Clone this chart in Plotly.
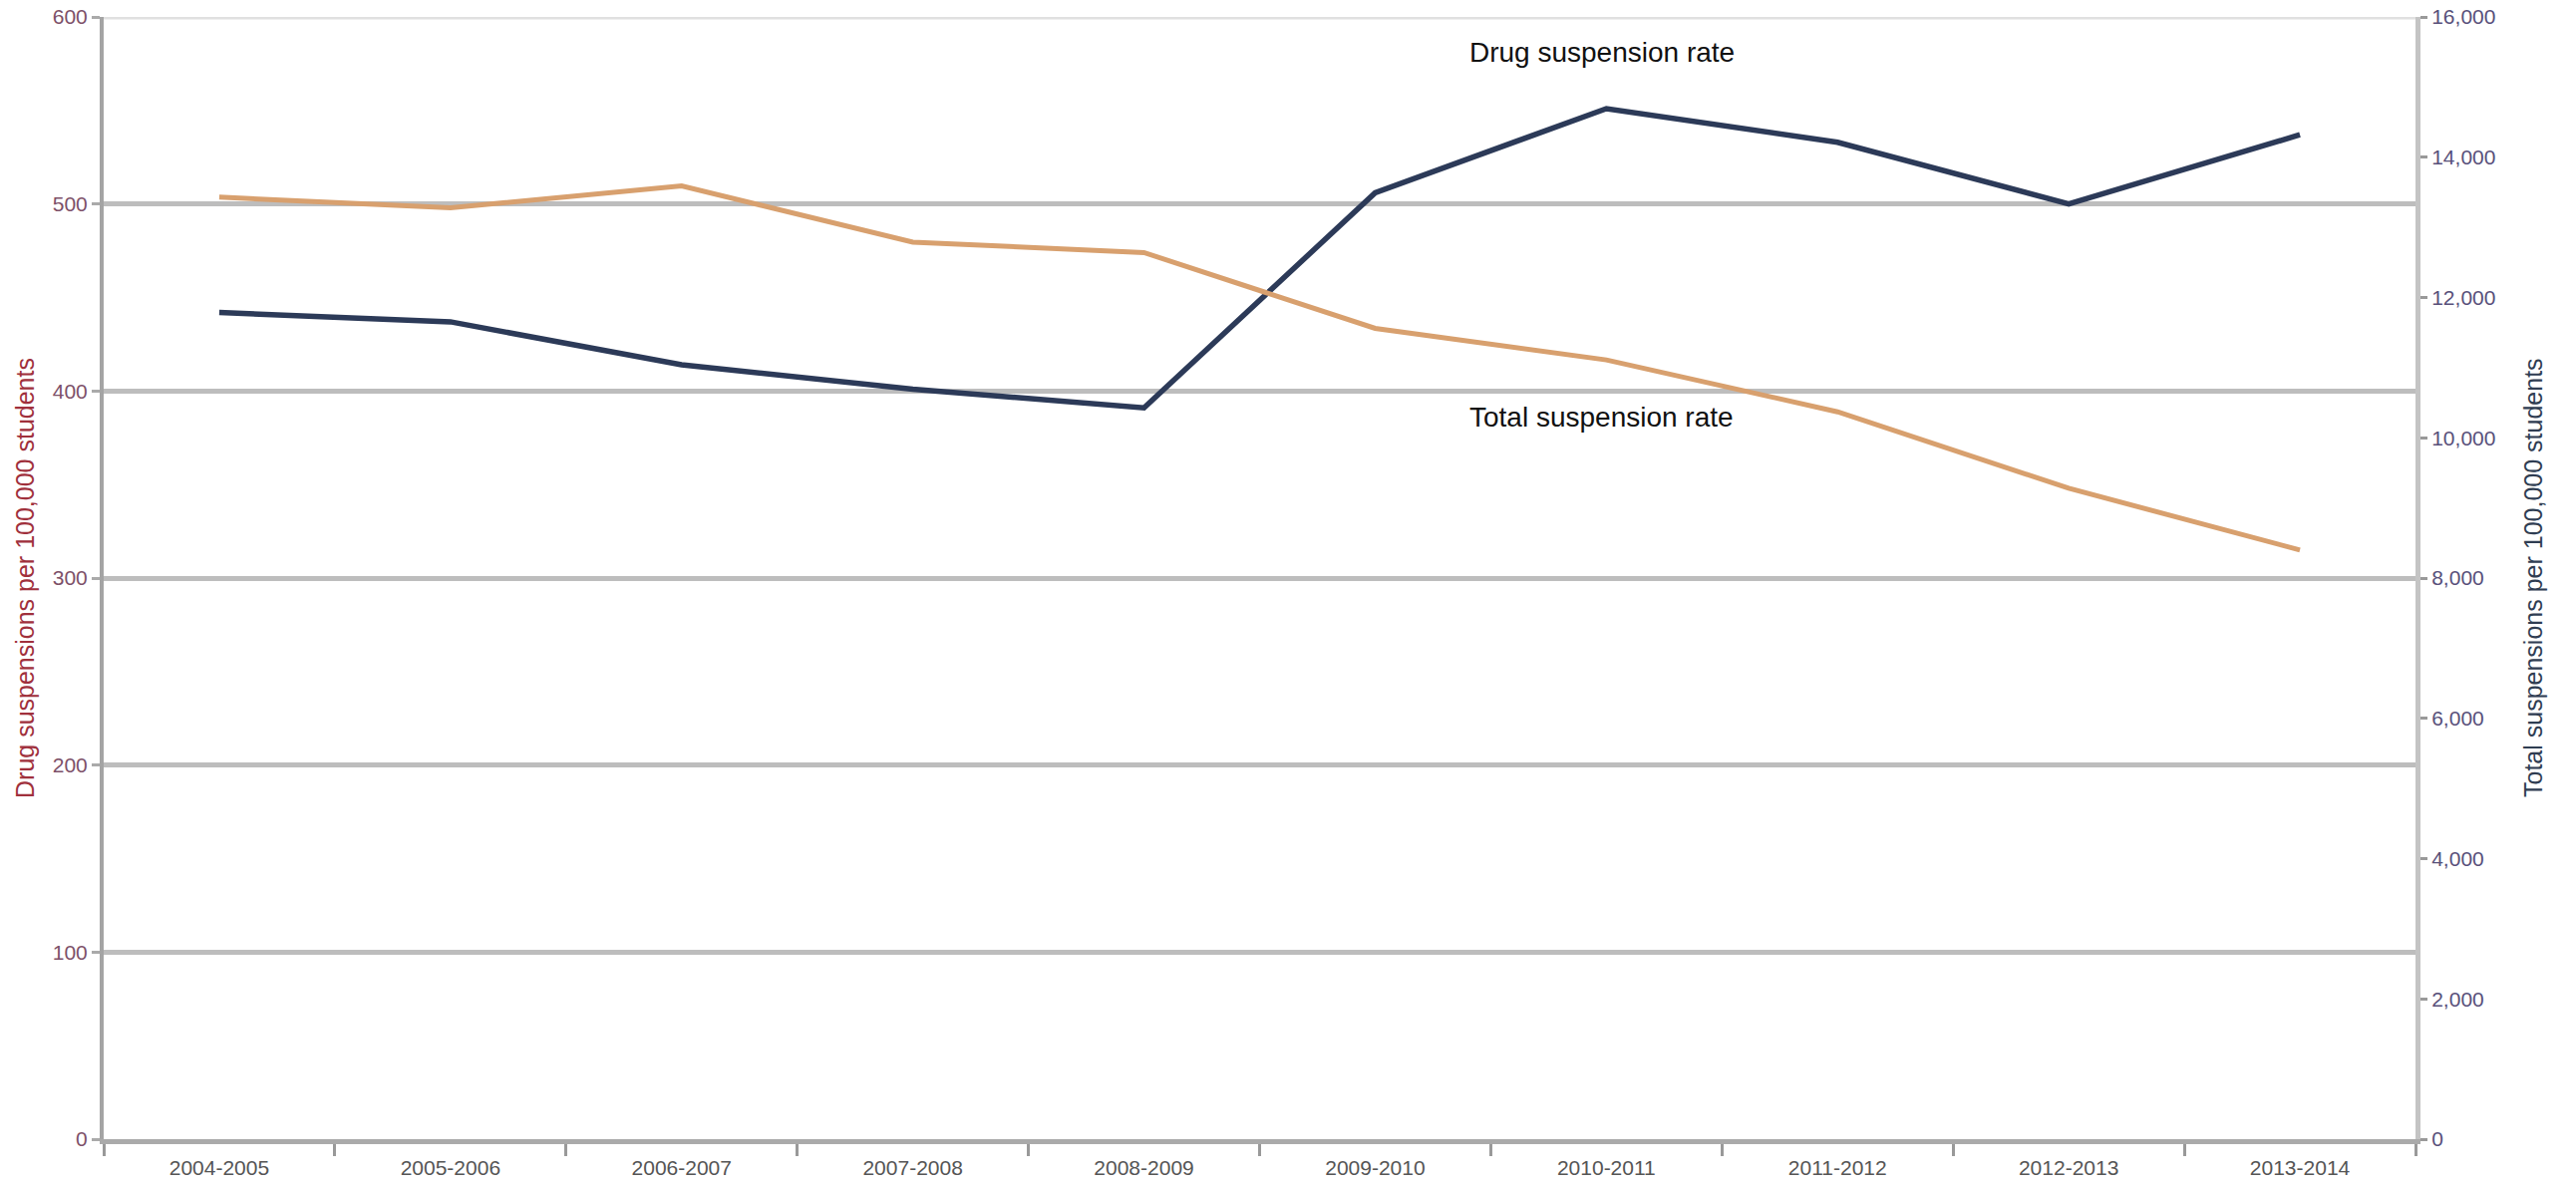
import plotly.graph_objects as go

years = ["2004-2005", "2005-2006", "2006-2007", "2007-2008", "2008-2009",
         "2009-2010", "2010-2011", "2011-2012", "2012-2013", "2013-2014"]
drug_rate = [442, 437, 414, 401, 391, 506, 551, 533, 500, 537]
total_rate = [13430, 13280, 13590, 12790, 12640, 11560, 11110, 10370, 9280, 8400]

left_ticks = [0, 100, 200, 300, 400, 500, 600]
right_ticks = [0, 2000, 4000, 6000, 8000, 10000, 12000, 14000, 16000]

W, H = 2584, 1190
# plot area in screen pixels (page body margin is removed below)
SX0, SX1, SY0, SY1 = 104, 2423, 17, 1143
L, T = SX0, SY0
R, B = W - SX1, H - SY1
PW, PH = SX1 - SX0, SY1 - SY0


def px(x):
    return (x - SX0) / PW


def py(y):
    return (SY1 - y) / PH


FONT = "Liberation Sans, Arial, sans-serif"

fig = go.Figure()
fig.add_trace(go.Scatter(
    x=years, y=drug_rate, mode="lines", name="Drug suspension rate",
    line=dict(color="#2c3a58", width=5.5), yaxis="y"))
fig.add_trace(go.Scatter(
    x=years, y=total_rate, mode="lines", name="Total suspension rate",
    line=dict(color="#d8a06e", width=5), yaxis="y2"))

fig.update_layout(
    width=W, height=H,
    margin=dict(l=L, r=R, t=T, b=B, autoexpand=False),
    paper_bgcolor="white", plot_bgcolor="white",
    showlegend=False,
    font=dict(family=FONT, size=21, color="#555555"),
    xaxis=dict(
        type="category", tickson="boundaries", range=[-0.5, 9.5],
        showgrid=False, showline=True, linecolor="#aaaaaa", linewidth=5,
        ticks="outside", ticklen=12, tickwidth=3, tickcolor="#999999",
        tickfont=dict(size=21, color="#555555"), ticklabelstandoff=6,
        zeroline=False, automargin=False),
    yaxis=dict(
        range=[0, 600], tickvals=left_ticks, showgrid=True,
        gridcolor="#bdbdbd", gridwidth=5,
        showline=True, linecolor="#a4a4a4", linewidth=4,
        ticks="outside", ticklen=8, tickwidth=3, tickcolor="#aaaaaa",
        tickfont=dict(size=21, color="#7d5068"), zeroline=False,
        ticklabeloverflow="allow", automargin=False),
    yaxis2=dict(
        range=[0, 16000], tickvals=right_ticks, tickformat=",",
        overlaying="y", side="right", showgrid=False,
        showline=True, linecolor="#c4c4c4", linewidth=5,
        ticks="outside", ticklen=7, tickwidth=3, tickcolor="#999999",
        tickfont=dict(size=21, color="#58507a"), zeroline=False,
        ticklabeloverflow="allow", automargin=False),
)

# lighter top gridline at 600
fig.add_shape(type="line", xref="paper", yref="y", x0=0, x1=1, y0=600, y1=600,
              line=dict(color="#e0e0e0", width=5), layer="below")

annotations = [
    dict(text="Drug suspension rate", x=px(1472), y=py(52), xanchor="left",
         yanchor="middle", font=dict(size=28, color="#111111", family=FONT)),
    dict(text="Total suspension rate", x=px(1472), y=py(418), xanchor="left",
         yanchor="middle", font=dict(size=28, color="#111111", family=FONT)),
    dict(text="Drug suspensions per 100,000 students", x=px(25), y=py(580),
         textangle=-90, xanchor="center", yanchor="middle",
         font=dict(size=25, color="#a0303c", family=FONT)),
    dict(text="Total suspensions per 100,000 students", x=px(2541), y=py(580),
         textangle=-90, xanchor="center", yanchor="middle",
         font=dict(size=25, color="#2f3d52", family=FONT)),
]
for a in annotations:
    a.update(xref="paper", yref="paper", showarrow=False)
fig.update_layout(annotations=annotations)

fig.write_html(
    "out.html",
    config={"displayModeBar": False},
    post_script="document.body.style.margin='0';document.body.style.overflow='hidden';",
)
